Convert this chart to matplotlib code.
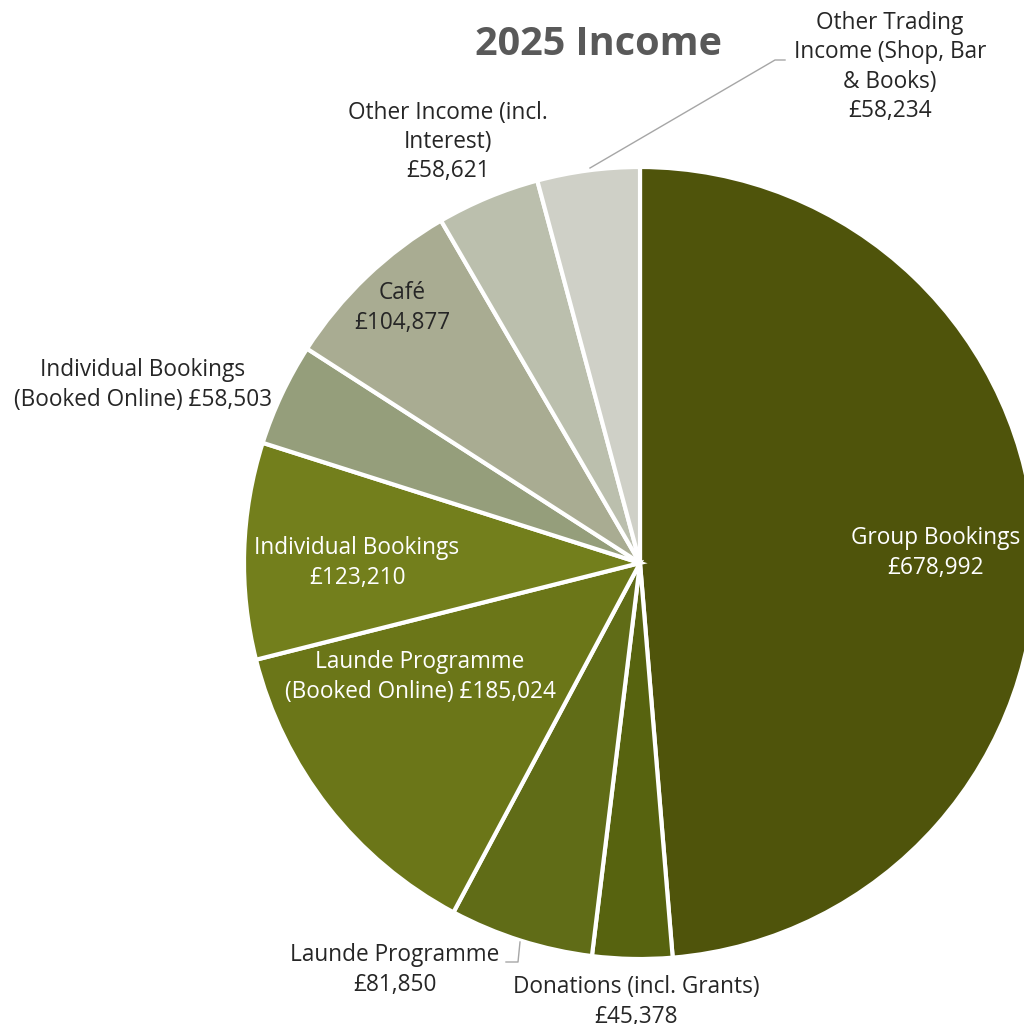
import matplotlib
matplotlib.use("Agg")
import matplotlib.pyplot as plt

plt.rcParams['font.family'] = ['Open Sans', 'DejaVu Sans']

# slices clockwise from 12 o'clock
categories = ["Group Bookings", "Donations (incl. Grants)", "Launde Programme",
              "Launde Programme (Booked Online)", "Individual Bookings",
              "Individual Bookings (Booked Online)", "Café",
              "Other Income (incl. Interest)", "Other Trading Income (Shop, Bar & Books)"]
income = [678992, 45378, 81850, 185024, 123210, 58503, 104877, 58621, 58234]
colours = ["#4f540b", "#57630f", "#606c17", "#6b7618", "#737f1c",
           "#959e7b", "#a9ac92", "#bbbfad", "#cfd0c7"]

# label text lines (value appended below) and where they go, in pixels
label_lines = [
    ["Group Bookings"],
    ["Donations (incl. Grants)"],
    ["Launde Programme"],
    ["Launde Programme", "(Booked Online)"],
    ["Individual Bookings"],
    ["Individual Bookings", "(Booked Online)"],
    ["Café"],
    ["Other Income (incl.", "Interest)"],
    ["Other Trading", "Income (Shop, Bar", "& Books)"],
]
label_px = [(936, 553), (636, 1002), (395, 970), (420, 677), (357, 563),
            (143, 385), (402, 308), (448, 142), (890, 67)]
label_white = [True, False, False, True, True, False, False, False, False]

CX, CY, R = 640, 563, 396


def px_to_data(px, py):
    return (px - CX) / R, (CY - py) / R


fig = plt.figure(figsize=(10.24, 10.24), dpi=100)
ax = fig.add_axes([0, 0, 1, 1])
ax.pie(income, colors=colours, startangle=90, counterclock=False,
       wedgeprops=dict(edgecolor="white", linewidth=3))
ax.set_xlim(-CX / R, (1024 - CX) / R)
ax.set_ylim(-(1024 - CY) / R, CY / R)
ax.axis("off")

for lines, val, (px, py), white in zip(label_lines, income, label_px, label_white):
    txt = list(lines)
    if len(txt) == 2 and txt[1].startswith("(Booked"):
        txt[1] = txt[1] + " £{:,}".format(val)
    else:
        txt.append("£{:,}".format(val))
    x, y = px_to_data(px, py)
    ax.text(x, y, "\n".join(txt), ha="center", va="center", fontsize=16.3,
            color="white" if white else "#262626", linespacing=1.3)

# leader lines
lx, ly = zip(*[px_to_data(590, 168), px_to_data(775, 60), px_to_data(785, 60)])
ax.plot(lx, ly, color="#a6a6a6", lw=1)
lx, ly = zip(*[px_to_data(520, 942), px_to_data(518, 962), px_to_data(506, 962)])
ax.plot(lx, ly, color="#a6a6a6", lw=1)

tx, ty = px_to_data(598, 45)
ax.text(tx, ty, "2025 Income", ha="center", va="center", fontsize=28.5,
        fontweight="bold", color="#595959")

fig.savefig("out.png", dpi=100, facecolor="white")
